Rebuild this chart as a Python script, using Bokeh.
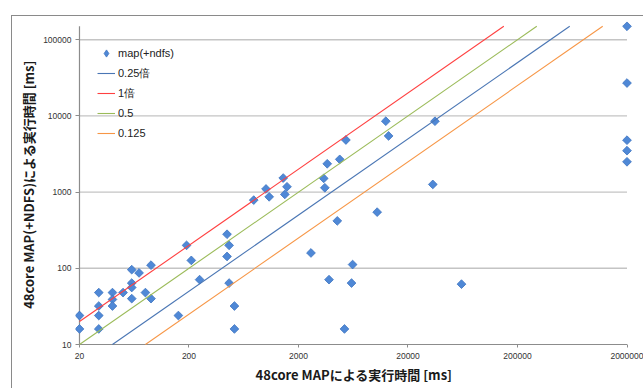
import numpy as np
from bokeh.plotting import figure
from bokeh.layouts import column
from bokeh.models import (FixedTicker, Legend, LegendItem, CDSView, IndexFilter,
                          ColumnDataSource, Range1d)
from bokeh.embed import file_html
from bokeh.resources import INLINE

# ---- data ----
map_x = [20, 20, 30, 30, 30, 30, 40, 40, 40, 50, 60, 60, 60, 60, 70, 80, 90, 90,
         160, 190, 210, 250, 445, 465, 445, 465, 520, 520, 780, 1010, 1080, 1450,
         1570, 1500, 2600, 3400, 3660, 3480, 3800, 4760, 4520, 5420, 5260, 6240,
         6100, 10460, 12540, 13300, 33700, 35260, 61600,
         2000000, 2000000, 2000000, 2000000, 2000000]
map_y = [24, 16, 48, 32, 24, 16, 48, 39, 32, 48, 96, 64, 56, 40, 87, 48, 110, 40,
         24, 200, 127, 71, 280, 200, 143, 64, 32, 16, 785, 1100, 867, 1530,
         1175, 933, 159, 1514, 2355, 1140, 71, 2690, 419, 4830, 16, 112,
         64, 546, 8520, 5460, 1262, 8520, 62,
         150000, 27000, 4800, 3500, 2500]

ratio_names = ["0.25倍", "1倍", "0.5", "0.125"]
ratios = [0.25, 1.0, 0.5, 0.125]
ratio_colors = ["#4a76b4", "#ff4040", "#9bbb59", "#f79646"]

x_ticks = [20, 200, 2000, 20000, 200000, 2000000]
x_tick_labels = ["20", "200", "2000", "20000", "200000", "2000000"]
y_ticks = [10, 100, 1000, 10000, 100000]
y_tick_labels = ["10", "100", "1000", "10000", "100000"]
x_min, x_max = 20, 2000000
y_min, y_max = 10, 150000

TICK_FONT = "Liberation Sans"
CJK_FONT = "Noto Sans CJK JP"
PT_FILL = "#4f88d6"
PT_LINE = "#3f75c0"

p = figure(width=631, height=372, x_axis_type="log", y_axis_type="log",
           x_range=Range1d(18.39, 2.245e6), y_range=Range1d(9.135, 173400),
           output_backend="svg", toolbar_location=None,
           min_border_left=63, min_border_right=11, min_border_top=5,
           min_border_bottom=41)
p.outline_line_color = None
p.xgrid.visible = False
p.ygrid.visible = False
p.background_fill_color = "white"
p.border_fill_color = "white"

# horizontal gridlines
grid_y = y_ticks[1:]
p.segment(x0=[x_min] * len(grid_y), x1=[x_max] * len(grid_y),
          y0=grid_y, y1=grid_y, line_color="#c4c4c4", line_width=1.4)
# axis lines
p.segment(x0=[x_min, x_min], x1=[x_max, x_min], y0=[y_min, y_min], y1=[y_min, y_max],
          line_color="#8c8c8c", line_width=1.2)

# scatter
src = ColumnDataSource(dict(x=map_x, y=map_y))
# legend stand-in: a narrower diamond hidden beneath the first marker
pts_leg = p.scatter("x", "y", source=src, view=CDSView(filter=IndexFilter([0])),
                    marker="diamond", size=8.6,
                    fill_color=PT_FILL, line_color=PT_LINE, line_width=0.8)
p.scatter("x", "y", source=src, marker="square", size=6.2, angle=np.pi / 4,
          fill_color=PT_FILL, line_color=PT_LINE, line_width=0.8)

# ratio lines
line_renderers = []
for r, c in zip(ratios, ratio_colors):
    xs = [max(x_min, y_min / r), y_max / r]
    ys = [r * xs[0], r * xs[1]]
    line_renderers.append(p.line(xs, ys, line_color=c, line_width=1.1))

# axes
xa = p.xaxis[0]
xa.ticker = FixedTicker(ticks=x_ticks)
xa.major_label_overrides = {t: s for t, s in zip(x_ticks, x_tick_labels)}
xa.minor_tick_line_color = None
xa.axis_line_color = None
xa.major_tick_in = 3
xa.major_tick_out = 0
xa.major_tick_line_color = "#8c8c8c"
xa.major_label_text_font = TICK_FONT
xa.major_label_text_font_size = "8.5px"
xa.major_label_text_color = "#333333"
xa.major_label_standoff = 5
xa.axis_label = "48core MAPによる実行時間 [ms]"
xa.axis_label_text_font = CJK_FONT
xa.axis_label_text_font_style = "bold"
xa.axis_label_text_font_size = "13px"
xa.axis_label_text_color = "#1a1a1a"
xa.axis_label_standoff = 3

ya = p.yaxis[0]
ya.ticker = FixedTicker(ticks=y_ticks)
ya.major_label_overrides = {t: s for t, s in zip(y_ticks, y_tick_labels)}
ya.minor_tick_line_color = None
ya.axis_line_color = None
ya.major_tick_in = 4
ya.major_tick_out = 0
ya.major_tick_line_color = "#8c8c8c"
ya.major_label_text_font = TICK_FONT
ya.major_label_text_font_size = "8.5px"
ya.major_label_text_color = "#333333"
ya.major_label_standoff = 4
ya.axis_label = "48core MAP(+NDFS)による実行時間 [ms]"
ya.axis_label_text_font = CJK_FONT
ya.axis_label_text_font_style = "bold"
ya.axis_label_text_font_size = "13px"
ya.axis_label_text_color = "#1a1a1a"
ya.axis_label_standoff = 2

# legend
items = [LegendItem(label="map(+ndfs)", renderers=[pts_leg])]
for name, rr in zip(ratio_names, line_renderers):
    items.append(LegendItem(label=name, renderers=[rr]))
legend = Legend(items=items, location="top_left", margin=22, padding=0,
                spacing=0, glyph_width=18, glyph_height=20, label_height=20,
                label_standoff=3, border_line_color=None,
                background_fill_alpha=0, label_text_font=TICK_FONT,
                label_text_font_size="11px", label_text_color="#222222")
p.add_layout(legend)

# outer chart frame: left and top edges, as in the reference
root = column(p, styles={"border-left": "1px solid #8a8a8a",
                         "border-top": "1px solid #8a8a8a",
                         "margin-left": "11px", "margin-top": "15px"})

open("out.html", "w").write(file_html(root, INLINE))
